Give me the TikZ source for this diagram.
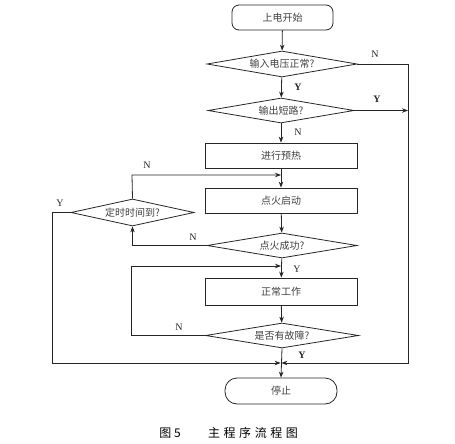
\documentclass[tikz,border=0pt]{standalone}
\usepackage{fontspec}
\setmainfont{Liberation Serif}
\newfontfamily\cjk{Noto Sans CJK SC}
\newfontfamily\cjkcap[LetterSpace=30]{Noto Sans CJK SC}
\usetikzlibrary{shapes.geometric,arrows.meta}
\begin{document}
\begin{tikzpicture}[x=1pt,y=-1pt,
  line/.style={line width=0.8pt,draw=black!85},
  arr/.style={line,-{Stealth[length=6pt,width=4.5pt]}},
  proc/.style={line,rectangle,minimum width=152pt,minimum height=25pt,inner sep=0pt,font=\cjk\fontsize{10}{12}\selectfont,text=black!75},
  term/.style={proc,rounded corners=7pt},
  dec/.style={line,diamond,aspect=6,inner sep=0pt,font=\cjk\fontsize{10}{12}\selectfont,text=black!75},
  lab/.style={font=\fontsize{10}{12}\selectfont,text=black!85,inner sep=0pt}]
\useasboundingbox (0,0) rectangle (455,444);
\node[term,minimum width=101pt] (start) at (282.5,17.5) {上电开始};
\node[dec,minimum width=150pt,minimum height=26pt] (d1) at (282,64) {输入电压正常?};
\node[dec,minimum width=146pt,minimum height=25pt] (d2) at (281,110.5) {输出短路?};
\node[proc] (p1) at (281,155.5) {进行预热};
\node[proc] (p2) at (281,200.5) {点火启动};
\node[dec,minimum width=150pt,minimum height=25pt] (d3) at (282,245.5) {点火成功?};
\node[proc,minimum height=27pt] (p3) at (281,291.5) {正常工作};
\node[dec,minimum width=153pt,minimum height=25pt] (d4) at (282,335.5) {是否有故障?};
\node[dec,minimum width=123pt,minimum height=27pt] (dt) at (132.5,212.5) {定时时间到?};
\node[term,minimum width=112pt,minimum height=26pt,rounded corners=12pt] (stop) at (281,391) {停止};
\coordinate (rx) at (408,0);
\coordinate (lx) at (52,0);
\coordinate (m) at (281,363);
\coordinate (top1) at (132,175);
\coordinate (top2) at (131,266);
% main axis
\draw[arr] (start) -- (d1);
\draw[arr] (d1) -- (d2);
\draw[arr] (d2) -- (p1);
\draw[arr] (p1) -- (p2);
\draw[arr] (p2) -- (d3);
\draw[arr] (d3) -- (p3);
\draw[arr] (p3) -- (d4);
\draw[arr] (d4.south) -- (stop.north);
% right side
\draw[arr] (d1.east) -- (d1.east -| rx) -- (rx |- m) -- ([xshift=0.4pt]m);
\draw[arr] (d2.east) -- (d2.east -| rx);
% timer loop
\draw[arr] (dt.north) -- (top1) -- (top1 -| p1.south);
\draw[arr] (d3.west) -- (d3.west -| dt.south) -- (dt.south);
\draw[arr] (dt.west) -- (dt.west -| lx) -- (lx |- m) -- ([xshift=-0.4pt]m);
% fault loop
\draw[arr] (d4.west) -- (d4.west -| top2) -- (top2) -- (top2 -| p3.north);
% labels
\node[lab] (l1) at (375,54) {N};
\node[lab] (l2) at (298,87) {\textbf{Y}};
\node[lab] (l3) at (377,99) {\textbf{Y}};
\node[lab] (l4) at (298,132) {N};
\node[lab] (l5) at (147,165) {N};
\node[lab] (l6) at (60,203) {Y};
\node[lab] (l7) at (193,237) {N};
\node[lab] (l8) at (297,269) {Y};
\node[lab] (l9) at (179,327) {N};
\node[lab] (l10) at (302,355) {\textbf{Y}};
% caption
\node[inner sep=0pt,font=\cjk\fontsize{12}{14}\selectfont] (c1) at (170,433) {图 5};
\node[inner sep=0pt,font=\cjkcap\fontsize{12}{14}\selectfont] (c2) at (253,433) {主程序流程图};
\end{tikzpicture}
\end{document}
